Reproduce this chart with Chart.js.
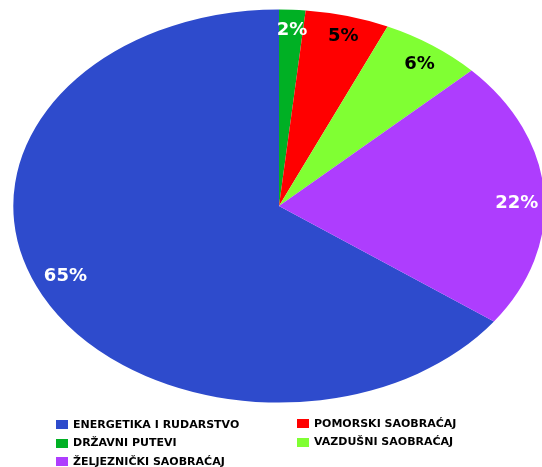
<!DOCTYPE html>
<html>
<head>
<meta charset="utf-8">
<script src="https://cdn.jsdelivr.net/npm/chart.js@4/dist/chart.umd.min.js"></script>
<style>
  html, body { margin: 0; padding: 0; background: #fff; }
  #wrap { position: relative; width: 542px; height: 467px; overflow: hidden; }
  #c { position: absolute; left: 0; top: 0; }
  .lg { position: absolute; font-family: "DejaVu Sans", sans-serif; font-weight: bold; font-size: 11px; color: #000; white-space: nowrap; line-height: 12px; }
  .sw { position: absolute; width: 12px; height: 9px; }
</style>
</head>
<body>
<div id="wrap">
  <canvas id="c" width="542" height="467"></canvas>
</div>
<script>
// ---- data ----
const categories = ["ENERGETIKA I RUDARSTVO", "DRŽAVNI PUTEVI", "POMORSKI SAOBRAĆAJ", "VAZDUŠNI SAOBRAĆAJ", "ŽELJEZNIČKI SAOBRAĆAJ"];
const values = [65.0, 1.6, 5.1, 6.2, 22.1];
const colors = ["#2E4BCC", "#00B024", "#FF0000", "#80FF33", "#AE3DFE"];
const labelColors = ["#ffffff", "#ffffff", "#000000", "#000000", "#ffffff"];
// legend layout order: [left column..., right column...]
const legendLeft = [0, 1, 4];
const legendRight = [2, 3];

const total = values.reduce((a, b) => a + b, 0);
const firstAngle = 360 - 360 * values[0] / total; // first slice ends at 12 o'clock

const SX = 265.7 / 196.6; // horizontal stretch of the pie (ellipse)

const ellipsePlugin = {
  id: 'ellipse',
  beforeDatasetsDraw(chart) {
    const meta = chart.getDatasetMeta(0);
    const cx = meta.data[0].x, cy = meta.data[0].y;
    const ctx = chart.ctx;
    ctx.save();
    ctx.translate(cx, cy);
    ctx.scale(SX, 1);
    ctx.translate(-cx, -cy);
  },
  afterDatasetsDraw(chart) {
    const ctx = chart.ctx;
    ctx.restore();
    const meta = chart.getDatasetMeta(0);
    ctx.save();
    ctx.font = 'bold 18px "DejaVu Sans", sans-serif';
    ctx.textAlign = 'center';
    ctx.textBaseline = 'middle';
    meta.data.forEach((arc, i) => {
      const pct = values[i] / total * 100;
      const shift = Math.min(3, pct * 0.15) * Math.PI / 180;
      const mid = (arc.startAngle + arc.endAngle) / 2 + shift;
      const r = arc.outerRadius * (pct > 50 ? 0.88 : 0.895);
      const px = arc.x + Math.cos(mid) * r * SX;
      const py = arc.y + Math.sin(mid) * r;
      ctx.fillStyle = labelColors[i];
      ctx.fillText(Math.round(pct) + '%', px, py);
    });
    ctx.restore();
  }
};

new Chart(document.getElementById('c'), {
  type: 'pie',
  data: {
    labels: categories,
    datasets: [{
      data: values,
      backgroundColor: colors,
      borderWidth: 0,
      clip: false
    }]
  },
  options: {
    responsive: false,
    animation: false,
    rotation: firstAngle,
    layout: { padding: { left: 82.4, right: 66.4, top: 9.4, bottom: 64.4 } },
    plugins: { legend: { display: false }, tooltip: { enabled: false } }
  },
  plugins: [ellipsePlugin]
});

// ---- legend ----
const wrap = document.getElementById('wrap');
function addItem(idx, x, y) {
  const sw = document.createElement('div');
  sw.className = 'sw';
  sw.style.left = x + 'px';
  sw.style.top = y + 'px';
  sw.style.background = colors[idx];
  wrap.appendChild(sw);
  const t = document.createElement('div');
  t.className = 'lg';
  t.style.left = (x + 17) + 'px';
  t.style.top = (y - 1.5) + 'px';
  t.textContent = categories[idx];
  wrap.appendChild(t);
}
const rowsY = [420, 438.5, 457];
legendLeft.forEach((idx, r) => addItem(idx, 56, rowsY[r]));
legendRight.forEach((idx, r) => addItem(idx, 297, rowsY[r] - 1));
</script>
</body>
</html>
